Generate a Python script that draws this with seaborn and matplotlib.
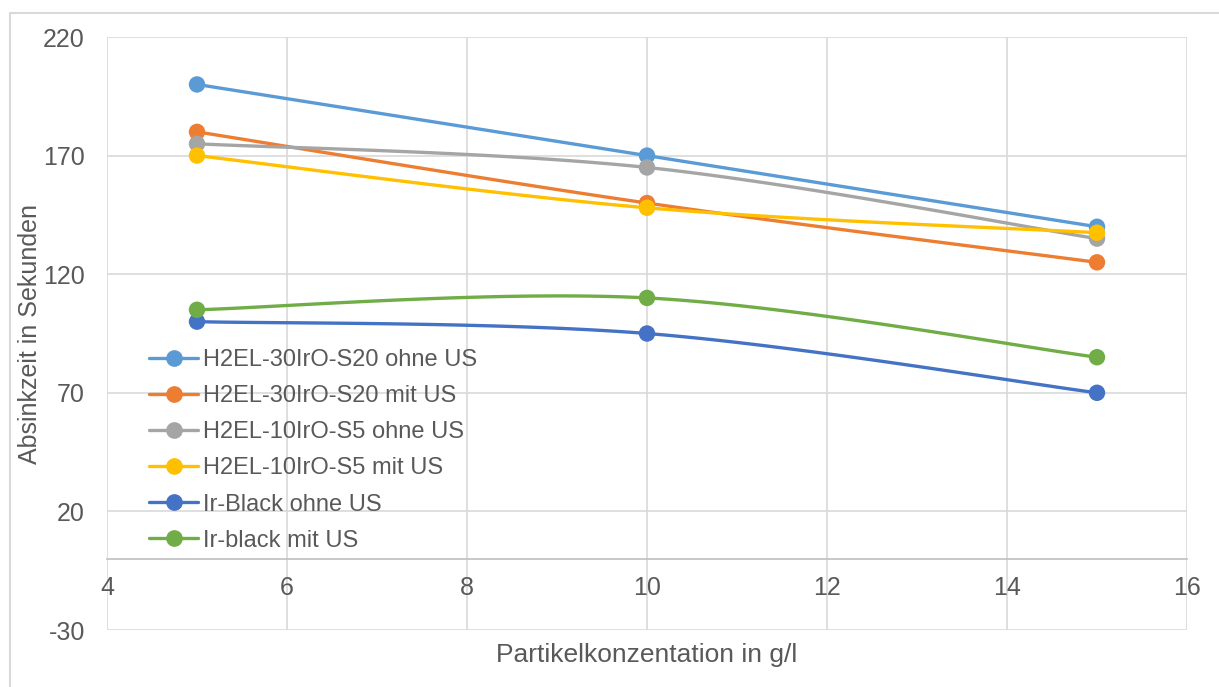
import numpy as np
import pandas as pd
import matplotlib
matplotlib.use("Agg")
import matplotlib.pyplot as plt
from matplotlib.lines import Line2D
from matplotlib.patches import Rectangle
import seaborn as sns

# ---- data ----
x_values = [5, 10, 15]
series_names = [
    "H2EL-30IrO-S20 ohne US",
    "H2EL-30IrO-S20 mit US",
    "H2EL-10IrO-S5 ohne US",
    "H2EL-10IrO-S5 mit US",
    "Ir-Black ohne US",
    "Ir-black mit US",
]
s1 = [200, 170, 140]
s2 = [180, 150, 125]
s3 = [175, 165, 135]
s4 = [170, 148, 137.5]
s5 = [100, 95, 70]
s6 = [105, 110, 85]
series_values = [s1, s2, s3, s4, s5, s6]
colors = ["#5B9BD5", "#ED7D31", "#A5A5A5", "#FFC000", "#4472C4", "#70AD47"]
x_ticks = [4, 6, 8, 10, 12, 14, 16]
y_ticks = [-30, 20, 70, 120, 170, 220]
x_label = "Partikelkonzentation in g/l"
y_label = "Absinkzeit in Sekunden"

sns.set_theme(style="white")
plt.rcParams["font.family"] = ["Liberation Sans", "DejaVu Sans"]
plt.rcParams["axes.unicode_minus"] = False
text_color = "#595959"

rows = []
for name, vals in zip(series_names, series_values):
    for xv, yv in zip(x_values, vals):
        rows.append({"series": name, "x": xv, "y": yv})
df = pd.DataFrame(rows)


def excel_smooth(xs, ys, n=60):
    """Excel-style Bezier smoothing through the given points."""
    pts = np.column_stack([xs, ys]).astype(float)
    out = []
    m = len(pts)
    for i in range(m - 1):
        p0 = pts[i - 1] if i > 0 else pts[i]
        p1 = pts[i]
        p2 = pts[i + 1]
        p3 = pts[i + 2] if i + 2 < m else pts[i + 1]
        c1 = p1 + (p2 - p0) / 6.0
        c2 = p2 - (p3 - p1) / 6.0
        t = np.linspace(0, 1, n)[:, None]
        seg = ((1 - t) ** 3) * p1 + 3 * ((1 - t) ** 2) * t * c1 + 3 * (1 - t) * t ** 2 * c2 + t ** 3 * p2
        out.append(seg if i == 0 else seg[1:])
    arr = np.vstack(out)
    return arr[:, 0], arr[:, 1]


fig = plt.figure(figsize=(12.19, 6.87), dpi=100)
ax = fig.add_axes([107 / 1219, 1 - 630 / 687, 1080 / 1219, 593 / 687])

for name, col in zip(series_names, colors):
    sub = df[df["series"] == name]
    sx, sy = excel_smooth(sub["x"].values, sub["y"].values)
    ax.plot(sx, sy, color=col, lw=2.4, solid_capstyle="round", zorder=3)

sns.scatterplot(data=df, x="x", y="y", hue="series", palette=dict(zip(series_names, colors)),
                s=140, edgecolor="none", legend=False, ax=ax, zorder=4)

ax.set_xlim(4, 16)
ax.set_ylim(-30, 220)
ax.set_xticks(x_ticks)
ax.set_yticks(y_ticks)
ax.grid(True, color="#D9D9D9", lw=1.2)
ax.set_axisbelow(True)
for side in ["top", "right", "left"]:
    ax.spines[side].set_visible(False)
ax.spines["bottom"].set_position(("data", 0))
ax.spines["bottom"].set_color("#BFBFBF")
ax.spines["bottom"].set_linewidth(1.2)
ax.tick_params(axis="both", length=0, labelsize=18, labelcolor=text_color)
ax.tick_params(axis="x", pad=12)
ax.tick_params(axis="y", pad=16)

ax.set_xlabel(x_label, fontsize=19, color=text_color, va="center")
ax.xaxis.set_label_coords(0.5, -0.042)
ax.set_ylabel(y_label, fontsize=18, color=text_color, va="center")
ax.yaxis.set_label_coords(-0.071, 0.5)

handles = [Line2D([0], [0], color=c, lw=2.4, marker="o", markersize=11) for c in colors]
leg = ax.legend(handles, series_names, loc="upper left", bbox_to_anchor=(0.03, 0.49),
                frameon=False, fontsize=17, handlelength=2.1, handletextpad=0.2,
                labelspacing=0.6, borderaxespad=0)
for t in leg.get_texts():
    t.set_color(text_color)

fig.patches.append(Rectangle((10 / 1219, -0.1), 1.2, 1 - 13 / 687 + 0.1, transform=fig.transFigure,
                             fill=False, edgecolor="#D9D9D9", lw=1.5, clip_on=False))

fig.savefig("out.png", dpi=100, facecolor="white")
